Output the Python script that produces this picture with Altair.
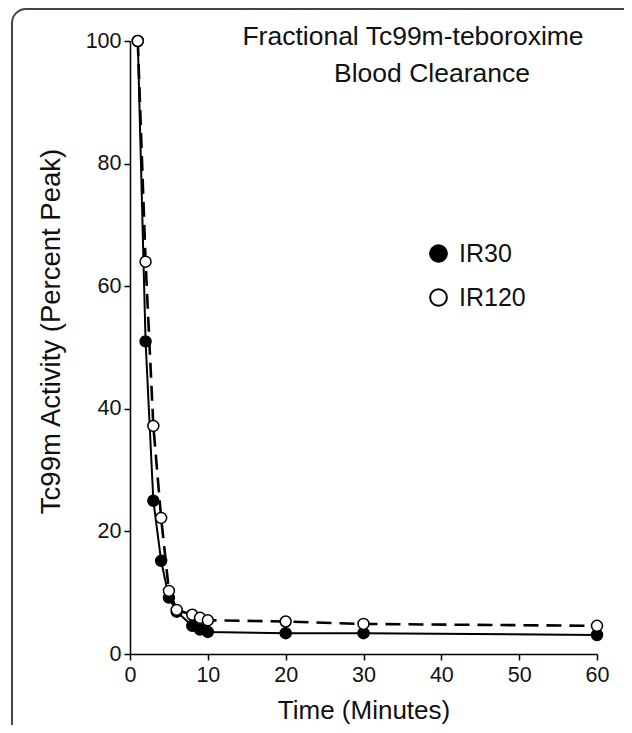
import altair as alt
import pandas as pd
import math

# ---- data ----
time_min = [1, 2, 3, 4, 5, 6, 8, 9, 10, 20, 30, 60]
ir30 = [100, 51, 25, 15.2, 9.2, 6.9, 4.6, 4.0, 3.6, 3.4, 3.4, 3.1]
ir120 = [100, 64, 37.2, 22.2, 10.3, 7.2, 6.4, 5.9, 5.5, 5.3, 4.9, 4.6]
series_names = ["IR30", "IR120"]
title_lines = ["Fractional Tc99m-teboroxime", "Blood Clearance"]
x_ticks = [0, 10, 20, 30, 40, 50, 60]
y_ticks = [0, 20, 40, 60, 80, 100]

rows = []
for t, a, b in zip(time_min, ir30, ir120):
    rows.append({"time": t, "value": a, "series": series_names[0]})
    rows.append({"time": t, "value": b, "series": series_names[1]})
df = pd.DataFrame(rows)

FONT = "Liberation Sans"

x_enc = alt.X("time:Q", scale=alt.Scale(domain=[0, 60], nice=False),
              axis=alt.Axis(values=x_ticks, title="Time (Minutes)", grid=False,
                            tickSize=6, labelPadding=4, titlePadding=12,
                            labelFlush=False))
y_enc = alt.Y("value:Q", scale=alt.Scale(domain=[0, 100], nice=False),
              axis=alt.Axis(values=y_ticks, title="Tc99m Activity (Percent Peak)",
                            grid=False, tickSize=6, labelPadding=3, titlePadding=20,
                            labelFlush=False, titleY=290))

base = alt.Chart(df)

line30 = base.transform_filter(alt.datum.series == "IR30").mark_line(
    color="black", strokeWidth=2).encode(x=x_enc, y=y_enc)
line120 = base.transform_filter(alt.datum.series == "IR120").mark_line(
    color="black", strokeWidth=2.6, strokeDash=[15, 8]).encode(x=x_enc, y=y_enc)

points = base.mark_point(filled=True, size=120, stroke="black", strokeWidth=1.5,
                         opacity=1).encode(
    x=x_enc, y=y_enc,
    fill=alt.Fill("series:N",
                  scale=alt.Scale(domain=series_names, range=["black", "white"]),
                  legend=alt.Legend(title=None, orient="none", legendX=296, legendY=200,
                                    symbolType="circle", symbolSize=280,
                                    symbolStrokeColor="black", symbolStrokeWidth=2,
                                    labelFontSize=25, labelFont=FONT, labelColor="#111",
                                    labelOffset=8, rowPadding=18, labelLimit=200)),
)

# decorative figure frame (top edge, left edge, rounded top-left corner)
one = pd.DataFrame({"k": [0]})
R = 14
frame_top = alt.Chart(one).mark_rule(color="#444", strokeWidth=2).encode(
    x=alt.value(-118 + R), x2=alt.value(800), y=alt.value(-32))
frame_left = alt.Chart(one).mark_rule(color="#444", strokeWidth=2).encode(
    x=alt.value(-118), y=alt.value(-32 + R), y2=alt.value(900))
frame_corner = alt.Chart(one).mark_arc(
    color="#444", innerRadius=R - 1, outerRadius=R + 1,
    theta=1.5 * math.pi, theta2=2 * math.pi).encode(
    x=alt.value(-118 + R), y=alt.value(-32 + R))

title_df = pd.DataFrame({"line": title_lines, "row": [0, 1]})
t1 = alt.Chart(title_df).transform_filter(alt.datum.row == 0).mark_text(
    font=FONT, fontSize=26.5, color="#111", align="center", baseline="alphabetic").encode(
    text="line:N", x=alt.value(283), y=alt.value(4))
t2 = alt.Chart(title_df).transform_filter(alt.datum.row == 1).mark_text(
    font=FONT, fontSize=26.5, color="#111", align="center", baseline="alphabetic").encode(
    text="line:N", x=alt.value(302), y=alt.value(41))

chart = alt.layer(frame_top, frame_left, frame_corner, line120, line30, points, t1, t2).properties(
    width=467, height=613,
    autosize=alt.AutoSizeParams(type="none"),
    padding={"left": 122, "top": 33, "right": 27, "bottom": 71},
).configure_view(stroke=None).configure_axis(
    domainColor="black", domainWidth=1.5, tickColor="black", tickWidth=1.5,
    labelFont=FONT, labelFontSize=21.5, labelColor="#111",
    titleFont=FONT, titleFontSize=26, titleColor="#111", titleFontWeight="normal",
).configure_axisY(titleFontSize=27.5)

chart.save("out.html", embed_options={"renderer": "svg", "actions": False})
